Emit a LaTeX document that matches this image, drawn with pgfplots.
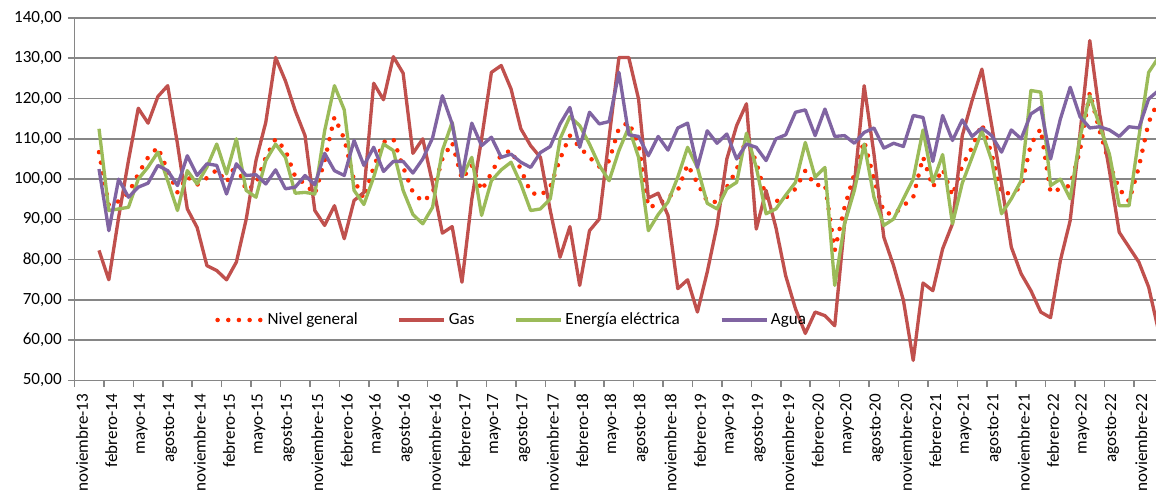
\documentclass[border=0pt]{standalone}
\usepackage{fontspec}
\setmainfont{Carlito}
\usepackage{pgfplots}
\usepackage{pgfplotstable}
\pgfplotsset{compat=1.18}
\definecolor{cgas}{HTML}{C0504D}
\definecolor{celec}{HTML}{9BBB59}
\definecolor{cagua}{HTML}{8064A2}
\definecolor{cniv}{HTML}{FF2A00}
\definecolor{cgrid}{HTML}{868686}

\pgfplotstableread{
i nivel gas elec agua
2 106.7 82.3 112.5 102.5
3 93.5 75.0 92.2 87.2
4 94.5 90.5 92.6 100.0
5 96.5 104.6 93.0 95.5
6 101.3 117.6 100.0 98.0
7 105.4 113.9 103.0 99.0
8 107.9 120.5 106.7 103.4
9 102.1 123.2 99.6 102.1
10 96.7 108.7 92.2 98.4
11 100.6 92.6 102.1 105.8
12 98.6 88.0 98.8 100.9
13 100.3 78.5 103.0 103.8
14 102.3 77.3 108.7 103.4
15 99.2 75.0 101.3 96.3
16 103.9 79.4 110.0 103.8
17 97.2 90.0 97.2 100.9
18 98.8 104.6 95.5 101.1
19 105.4 114.1 104.6 98.8
20 110.0 130.2 108.7 102.3
21 107.2 124.4 105.4 97.6
22 100.6 117.0 96.5 98.0
23 98.8 110.8 96.7 100.9
24 96.3 92.2 96.3 98.6
25 104.6 88.5 112.0 106.4
26 115.4 93.4 123.2 102.1
27 110.0 85.2 117.2 100.9
28 99.7 94.7 97.2 109.6
29 95.2 96.7 93.7 103.4
30 103.0 123.8 100.5 107.9
31 109.2 119.7 108.7 101.9
32 110.0 130.4 107.1 104.4
33 103.0 126.3 97.2 104.4
34 96.7 106.4 91.2 101.5
35 94.4 110.0 88.9 105.0
36 96.5 99.0 93.0 110.2
37 105.0 86.6 107.1 120.7
38 109.1 88.2 114.1 113.7
39 100.0 74.4 100.5 100.5
40 103.4 95.0 105.4 113.9
41 97.2 110.0 91.0 108.3
42 101.5 126.5 99.6 110.4
43 106.1 128.2 102.3 105.4
44 107.1 122.4 104.2 106.2
45 102.5 112.5 98.8 104.2
46 96.7 108.3 92.2 102.9
47 95.9 105.4 92.6 106.6
48 98.1 92.2 95.1 108.1
49 105.0 80.6 110.0 113.7
50 110.8 88.2 115.5 117.8
51 107.9 73.6 113.3 107.9
52 105.4 87.2 108.7 116.6
53 103.1 90.1 103.4 113.7
54 104.5 110.4 99.6 114.3
55 112.7 130.2 107.1 126.5
56 114.1 130.2 112.9 111.0
57 108.7 119.9 105.4 110.6
58 93.0 95.3 87.2 105.8
59 93.7 96.5 91.2 110.6
60 95.5 91.0 94.3 107.2
61 97.2 72.8 100.5 112.7
62 103.6 75.0 107.9 113.9
63 99.0 67.0 102.9 102.9
64 94.5 76.9 94.0 112.0
65 94.3 88.5 92.6 108.9
66 98.0 105.0 97.6 111.2
67 102.3 113.3 99.2 105.0
68 110.4 118.7 111.4 108.7
69 104.2 87.6 102.9 107.9
70 95.5 97.2 91.4 104.6
71 94.5 88.0 92.6 110.0
72 95.3 76.0 96.0 111.0
73 97.6 67.8 99.2 116.6
74 102.1 61.7 109.1 117.2
75 98.4 67.0 100.5 110.8
76 98.8 66.1 102.9 117.4
77 82.3 63.6 73.6 110.6
78 93.0 88.9 88.9 110.8
79 101.3 98.8 97.2 108.9
80 109.5 123.2 108.7 111.6
81 100.0 106.2 95.5 112.7
82 91.8 85.6 88.5 107.7
83 91.2 78.5 90.1 108.9
84 93.4 69.9 95.1 108.1
85 95.5 55.0 100.0 115.8
86 105.5 74.2 112.2 115.3
87 98.0 72.3 99.2 104.4
88 102.5 82.7 106.1 115.8
89 95.9 88.9 88.9 109.6
90 103.3 110.8 99.0 114.7
91 107.9 119.5 105.4 110.6
92 113.7 127.3 112.0 112.7
93 106.2 113.3 104.6 110.8
94 96.5 98.8 91.4 106.7
95 96.5 83.1 95.1 112.2
96 98.0 76.5 99.6 110.0
97 108.7 72.3 122.0 116.2
98 112.5 67.0 121.6 117.8
99 96.7 65.6 98.4 105.0
100 97.6 79.8 100.0 114.9
101 98.4 89.7 95.1 122.8
102 107.1 111.2 110.4 115.5
103 121.5 134.4 120.7 112.7
104 112.0 116.2 113.3 113.0
105 103.8 102.1 106.2 112.2
106 97.6 86.8 93.4 110.6
107 94.5 83.1 93.4 113.0
108 103.0 79.4 110.4 112.7
109 114.1 73.2 126.5 119.9
110 119.5 62.4 130.2 122.0
}\datatable

\begin{document}
\begin{tikzpicture}
\useasboundingbox (-55.875pt,-84.375pt) rectangle (811.125pt,285.375pt);
\begin{axis}[
  scale only axis, width=811.125pt, height=271.875pt,
  xmin=-0.5, xmax=109.75, ymin=50, ymax=140,
  axis x line*=bottom, axis y line*=left,
  axis line style={draw=cgrid, line width=1.2pt},
  ytick={50,60,...,140},
  ymajorgrids, grid style={draw=cgrid, line width=1.2pt},
  xtick={0,3,...,108},
  xticklabels={noviembre-13,febrero-14,mayo-14,agosto-14,noviembre-14,febrero-15,mayo-15,agosto-15,noviembre-15,febrero-16,mayo-16,agosto-16,noviembre-16,febrero-17,mayo-17,agosto-17,noviembre-17,febrero-18,mayo-18,agosto-18,noviembre-18,febrero-19,mayo-19,agosto-19,noviembre-19,febrero-20,mayo-20,agosto-20,noviembre-20,febrero-21,mayo-21,agosto-21,noviembre-21,febrero-22,mayo-22,agosto-22,noviembre-22},
  minor xtick={-0.5,2.5,...,108},
  tick align=outside,
  major tick length=4.9pt, minor tick length=4.5pt,
  major x tick style={draw=none},
  minor x tick style={draw=cgrid, line width=1.2pt},
  major y tick style={draw=cgrid, line width=1.2pt},
  tick label style={font=\fontsize{12.8pt}{15pt}\selectfont, black},
  xticklabel style={xshift=1.9pt, yshift=-1.5pt, rotate=90, anchor=east},
  yticklabel style={xshift=-1.2pt, /pgf/number format/.cd, fixed, fixed zerofill, precision=2, use comma, 1000 sep={}},
  /pgf/number format/assume math mode=true,
  legend columns=4,
  legend style={draw=none, fill=none, at={(0.4045,0.1669)}, anchor=center,
    font=\fontsize{12.8pt}{15pt}\selectfont,
    /tikz/every even column/.append style={column sep=28pt}},
  legend image code/.code={\draw[#1] (0pt,0pt) -- (33.75pt,0pt);},
  clip=true,
]
\addplot[cniv, line width=3.4pt, line cap=round, dash pattern=on 0pt off 8pt] table[x=i,y=nivel]{\datatable};
\addlegendentry{Nivel general}
\addplot[cgas, line width=2.5pt, line join=round] table[x=i,y=gas]{\datatable};
\addlegendentry{Gas}
\addplot[celec, line width=2.5pt, line join=round] table[x=i,y=elec]{\datatable};
\addlegendentry{Energía eléctrica}
\addplot[cagua, line width=2.5pt, line join=round] table[x=i,y=agua]{\datatable};
\addlegendentry{Agua}
\end{axis}
\end{tikzpicture}
\end{document}
